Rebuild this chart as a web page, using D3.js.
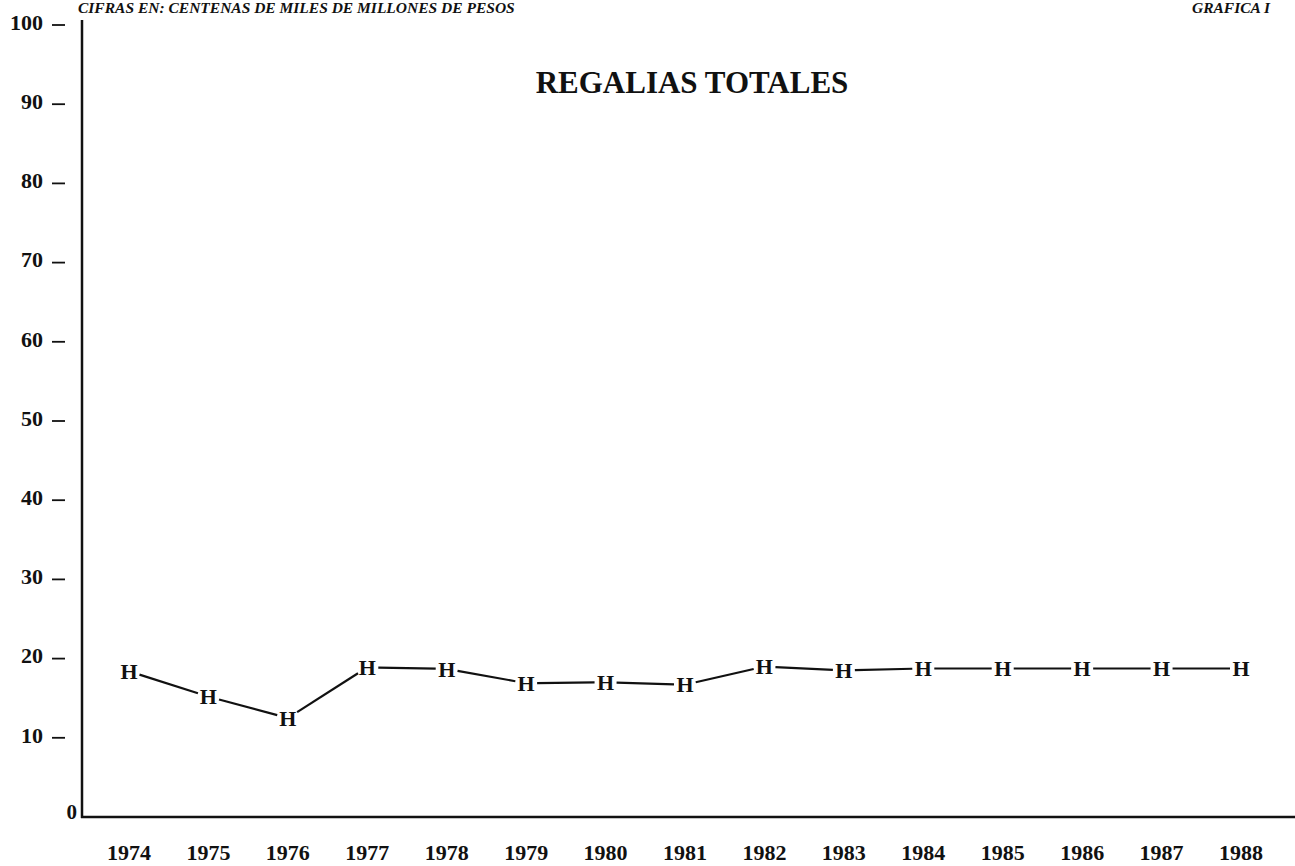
<!DOCTYPE html>
<html>
<head>
<meta charset="utf-8">
<script src="https://cdn.jsdelivr.net/npm/d3@7"></script>
<style>
  body { margin: 0; background: #fff; }
  svg text { font-family: "Liberation Serif", "DejaVu Serif", serif; font-weight: bold; fill: #111; }
</style>
</head>
<body>
<div class="chart"></div>
<script>
const years = [1974, 1975, 1976, 1977, 1978, 1979, 1980, 1981, 1982, 1983, 1984, 1985, 1986, 1987, 1988];
const regalias = [18.4, 15.2, 12.5, 18.9, 18.7, 16.9, 17.0, 16.7, 19.0, 18.5, 18.75, 18.75, 18.75, 18.75, 18.75];
const yTicks = [10, 20, 30, 40, 50, 60, 70, 80, 90, 100];

const headerText = "CIFRAS EN: CENTENAS DE MILES DE MILLONES DE PESOS";
const chartNo = "GRAFICA I";
const title = "REGALIAS TOTALES";

const width = 1295, height = 866;

const svg = d3.select(".chart").append("svg")
  .attr("width", width)
  .attr("height", height);

const x = d3.scalePoint()
  .domain(years)
  .range([129, 1241]);

const y = d3.scaleLinear()
  .domain([0, 100])
  .range([817, 25]);

// header lines
svg.append("text")
  .attr("x", 78).attr("y", 13)
  .style("font-size", "15.5px")
  .style("font-style", "italic")
  .text(headerText);

svg.append("text")
  .attr("x", 1192).attr("y", 13)
  .style("font-size", "15.5px")
  .style("font-style", "italic")
  .text(chartNo);

svg.append("text")
  .attr("x", 692).attr("y", 93)
  .attr("text-anchor", "middle")
  .style("font-size", "31px")
  .text(title);

// axes
svg.append("line")
  .attr("x1", 82).attr("x2", 82)
  .attr("y1", 20).attr("y2", y(0) + 1)
  .attr("stroke", "#111").attr("stroke-width", 2.5);

svg.append("line")
  .attr("x1", 81).attr("x2", width)
  .attr("y1", y(0)).attr("y2", y(0))
  .attr("stroke", "#111").attr("stroke-width", 2.5);

// y ticks: label + short dash, not touching the axis
const yt = svg.selectAll(".ytick")
  .data(yTicks)
  .enter().append("g")
  .attr("class", "ytick");

yt.append("text")
  .attr("x", 43)
  .attr("y", d => y(d) - 3)
  .attr("dy", "0.35em")
  .attr("text-anchor", "end")
  .style("font-size", "22px")
  .text(d => d);

yt.append("line")
  .attr("x1", 52).attr("x2", 65)
  .attr("y1", d => y(d)).attr("y2", d => y(d))
  .attr("stroke", "#111").attr("stroke-width", 1.8);

svg.append("text")
  .attr("x", 77)
  .attr("y", y(0) - 5)
  .attr("dy", "0.35em")
  .attr("text-anchor", "end")
  .style("font-size", "21px")
  .text(0);

// x labels
svg.selectAll(".xlabel")
  .data(years)
  .enter().append("text")
  .attr("class", "xlabel")
  .attr("x", d => x(d))
  .attr("y", 860)
  .attr("text-anchor", "middle")
  .style("font-size", "22px")
  .text(d => d);

// series: H markers joined by segments that stop short of the letters
const pts = years.map((yr, i) => ({ px: x(yr), py: y(regalias[i]) }));
const segs = d3.pairs(pts);
const gap = 11;

svg.selectAll(".seg")
  .data(segs)
  .enter().append("line")
  .attr("class", "seg")
  .each(function ([a, b]) {
    const dx = b.px - a.px, dy = b.py - a.py;
    const len = Math.hypot(dx, dy);
    const ux = dx / len, uy = dy / len;
    d3.select(this)
      .attr("x1", a.px + ux * gap).attr("y1", a.py + uy * gap)
      .attr("x2", b.px - ux * gap).attr("y2", b.py - uy * gap);
  })
  .attr("stroke", "#111")
  .attr("stroke-width", 2.2);

svg.selectAll(".mark")
  .data(pts)
  .enter().append("text")
  .attr("class", "mark")
  .attr("x", d => d.px)
  .attr("y", d => d.py)
  .attr("dy", "0.35em")
  .attr("text-anchor", "middle")
  .style("font-size", "22px")
  .text("H");
</script>
</body>
</html>
